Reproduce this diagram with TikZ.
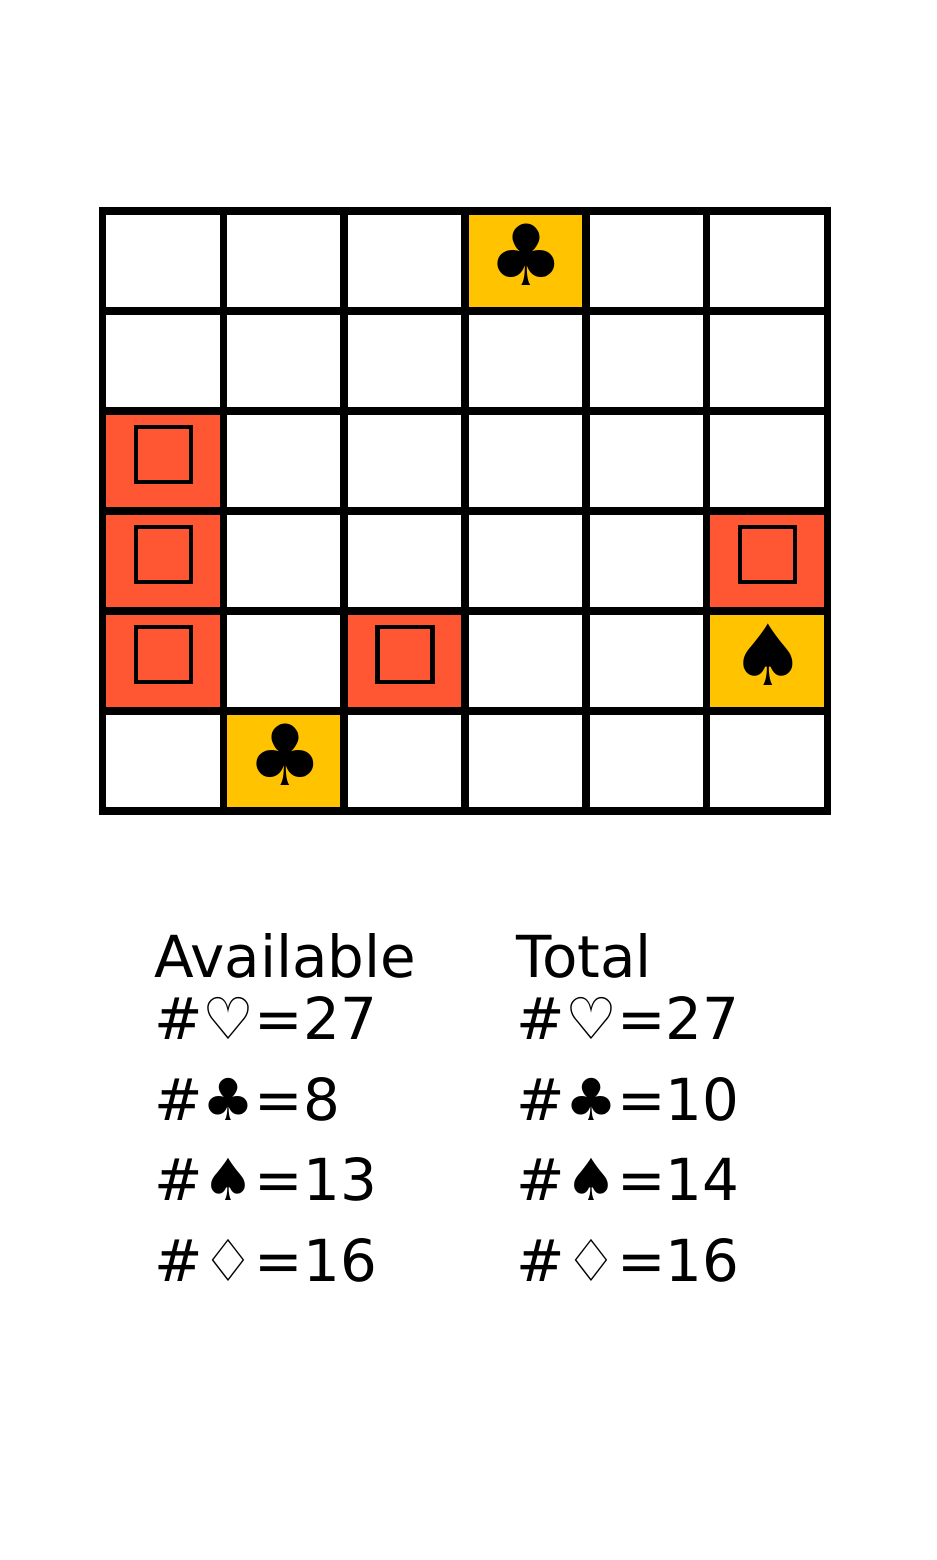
\documentclass[tikz,border=0pt]{standalone}
\usepackage{fontspec}
\setmainfont{DejaVu Sans}
\definecolor{hitcol}{HTML}{FFC300}
\definecolor{misscol}{HTML}{FF5733}
\tikzset{
  hitcell/.style={fill=hitcol, inner sep=0pt, minimum width=1.2083cm, minimum height=1cm},
  misscell/.style={fill=misscol, inner sep=0pt, minimum width=1.2083cm, minimum height=1cm},
  markbox/.style={draw=black, line width=1.3pt, inner sep=0pt, minimum size=0.55cm},
  suit/.style={inner sep=0pt, font=\fontsize{24pt}{24pt}\selectfont},
  tally/.style={anchor=base west, inner sep=0pt, font=\fontsize{16.47pt}{16.47pt}\selectfont},
}
\begin{document}
\begin{tikzpicture}[x=0.01cm, y=-0.01cm]
\useasboundingbox (0,0) rectangle (936,1560);
\def\xa{102.5};
\def\ya{211};
\def\dx{120.83};
\def\dy{100};

% coloured cells, column/row from top left
\foreach \col/\row/\name in {3/0/a, 1/5/b, 5/4/c} {
  \node[hitcell] (hit\name) at ({\xa+(\col+0.5)*\dx}, {\ya+(\row+0.5)*\dy}) {};
}
\foreach \col/\row/\name in {0/2/a, 0/3/b, 0/4/c, 2/4/d, 5/3/e} {
  \node[misscell] (miss\name) at ({\xa+(\col+0.5)*\dx}, {\ya+(\row+0.5)*\dy}) {};
  \node[markbox] (box\name) at ([xshift=0.006cm, yshift=0.065cm]miss\name.center) {};
}

% grid
\foreach \i in {0,...,6} {
  \draw[line width=2.1pt, line cap=rect] ({\xa+\i*\dx}, \ya) -- ({\xa+\i*\dx}, {\ya+6*\dy});
  \draw[line width=2.1pt, line cap=rect] (\xa, {\ya+\i*\dy}) -- ({\xa+6*\dx}, {\ya+\i*\dy});
}

\node[suit] (clubtop) at ([xshift=0.012cm, yshift=0.06cm]hita) {♣};
\node[suit] (clubbot) at ([xshift=0.012cm, yshift=0.06cm]hitb) {♣};
\node[suit] (spade) at ([xshift=0.012cm, yshift=0.06cm]hitc) {♠};

% counts
\node[tally] (avail) at (153.5, 977) {Available};
\node[tally] (avh) at (153.5, 1039) {\#♡=27};
\node[tally] (avc) at (153.5, 1120) {\#♣=8};
\node[tally] (avs) at (153.5, 1200) {\#♠=13};
\node[tally] (avd) at (153.5, 1281) {\#♢=16};

\node[tally] (total) at (516, 977) {Total};
\node[tally] (toh) at (516, 1039) {\#♡=27};
\node[tally] (toc) at (516, 1120) {\#♣=10};
\node[tally] (tos) at (516, 1200) {\#♠=14};
\node[tally] (tod) at (516, 1281) {\#♢=16};
\end{tikzpicture}
\end{document}
